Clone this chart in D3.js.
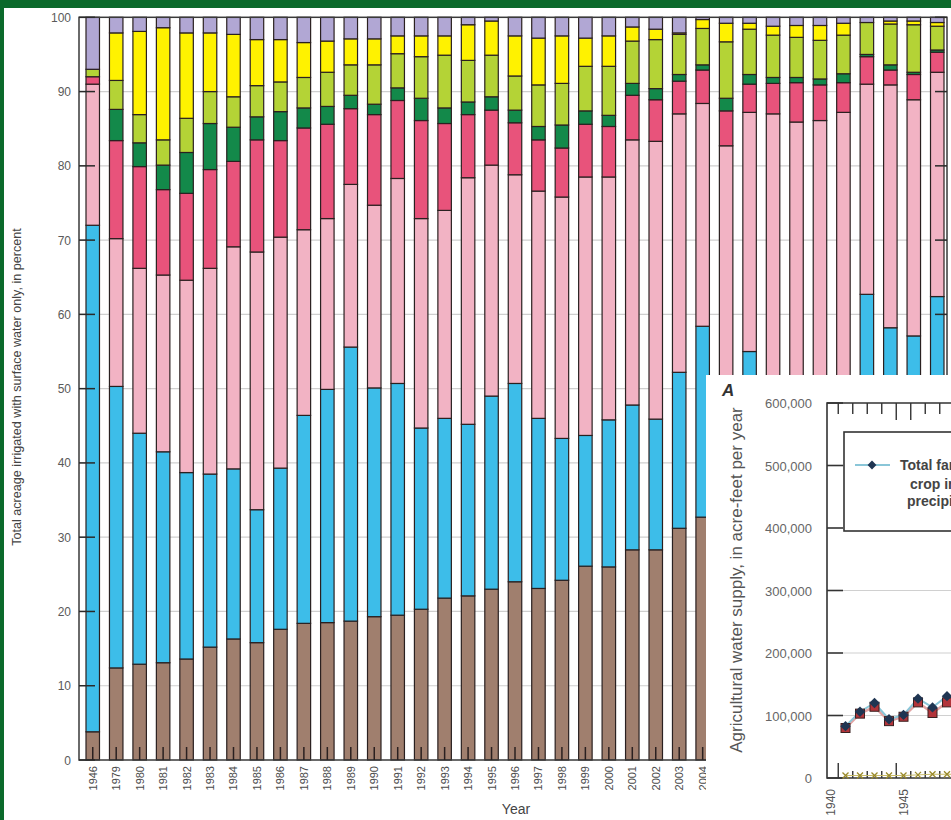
<!DOCTYPE html>
<html><head><meta charset="utf-8">
<script src="https://cdn.jsdelivr.net/npm/d3@7"></script>
<style>
html,body{margin:0;padding:0;background:#0b6a2b;}
svg{display:block;}
.narrow{font-family:"Liberation Sans Narrow","Arial Narrow","Liberation Sans",sans-serif;}
.reg{font-family:"Liberation Sans",Arial,sans-serif;}
</style></head><body>
<svg id="chart" width="951" height="820"></svg>
<script>
// ---- Main chart: share of surface-water-only acreage, by year ----
const years = ["1946","1979","1980","1981","1982","1983","1984","1985","1986","1987","1988",
  "1989","1990","1991","1992","1993","1994","1995","1996","1997","1998","1999","2000",
  "2001","2002","2003","2004","2005","2006","2007","2008","2009","2010","2011","2012","2013","2014"];

// segment sizes, bottom to top, percent of total acreage
const brownShare  = [3.8,12.4,12.9,13.1,13.6,15.2,16.3,15.8,17.6,18.4,18.5,18.7,19.3,19.5,20.3,21.8,22.1,23.0,24.0,23.1,24.2,26.1,26.0,28.3,28.3,31.2,32.7,33.0,33.5,34.0,34.5,35.0,35.5,36.0,36.5,37.0,37.5];
const blueShare   = [68.2,37.9,31.1,28.4,25.1,23.3,22.9,17.9,21.7,28.0,31.4,36.9,30.8,31.2,24.4,24.2,23.1,26.0,26.7,22.9,19.1,17.6,19.8,19.5,17.6,21.0,25.7,17.0,21.5,15.5,14.0,14.0,15.0,26.7,21.7,20.1,24.9];
const pinkShare   = [19.0,19.9,22.2,23.8,25.9,27.7,29.9,34.7,31.1,25.0,23.0,21.9,24.6,27.6,28.2,28.0,33.2,31.1,28.1,30.6,32.5,34.8,32.7,35.7,37.4,34.8,30.0,32.7,32.2,37.5,37.4,37.1,36.7,28.3,32.7,31.8,30.2];
const roseShare   = [1.0,13.2,13.7,11.5,11.7,13.3,11.5,15.1,13.0,13.7,12.7,10.2,12.2,10.5,13.2,11.7,8.5,7.4,7.0,6.9,6.6,7.1,6.8,6.0,5.6,4.4,4.5,4.7,3.8,4.1,5.3,4.8,4.0,3.7,2.0,3.4,2.7];
const forestShare = [0.0,4.2,3.2,3.3,5.5,6.2,4.6,3.1,3.9,2.7,2.4,1.8,1.4,1.7,3.0,2.1,1.7,1.8,1.7,1.8,3.1,1.8,1.5,1.6,1.5,0.9,0.7,1.7,1.3,0.8,0.7,0.8,1.2,0.3,0.7,0.3,0.3];
const limeShare   = [1.0,3.9,3.8,3.4,4.6,4.3,4.1,4.2,4.0,4.1,4.6,4.1,5.3,4.6,5.6,7.1,5.6,5.6,4.6,5.6,5.6,6.0,6.6,5.7,6.6,5.4,4.9,7.6,6.1,5.7,5.4,5.2,5.2,4.3,5.5,6.4,3.2];
const yellowShare = [0.0,6.4,11.2,15.1,11.5,7.9,8.4,6.2,5.7,4.7,4.2,3.5,3.5,2.4,2.8,2.6,4.8,4.6,5.4,6.3,6.4,3.8,4.1,1.9,1.4,0.2,1.2,2.5,0.8,1.2,1.6,2.0,1.6,0.0,0.4,0.5,0.5];
const lilacShare  = [7.0,2.1,1.9,1.4,2.1,2.1,2.3,3.0,3.0,3.4,3.2,2.9,2.9,2.5,2.5,2.5,1.0,0.5,2.5,2.8,2.5,2.8,2.5,1.3,1.6,2.1,0.3,0.8,0.8,1.2,1.1,1.1,0.8,0.7,0.5,0.5,0.7];

const seriesKeys   = ["brown","blue","pink","rose","forest","lime","yellow","lilac"];
const seriesArrays = [brownShare,blueShare,pinkShare,roseShare,forestShare,limeShare,yellowShare,lilacShare];
const seriesColors = ["#a07f6e","#3dbde9","#f2b3c4","#e8537b","#13894a","#b4d336","#fff200","#b1a7d4"];
const yTicks = [0,10,20,30,40,50,60,70,80,90,100];

// ---- Inset chart: agricultural water supply ----
const insetYears   = [1941,1942,1943,1944,1945,1946,1947,1948,1949];
const totalSupply  = [83000,106000,120000,94000,101000,127000,113000,131000,126000];
const deliverySupply = [80000,103000,114000,91000,98000,121000,104000,121000,118000];
const minorSupply  = [4000,4000,4000,4000,4000,5000,6000,6000,6000];
const insetYTicks  = [0,100000,200000,300000,400000,500000,600000];
const insetXLabels = [1940,1945];

const svg = d3.select("#chart");

// white page area
svg.append("rect").attr("x",4).attr("y",8).attr("width",947).attr("height",812).attr("fill","#fff");

const L = 79, R = 947, T = 17.3, B = 760;
const x = d3.scaleBand().domain(years).range([86, 944]).paddingInner(0.425).paddingOuter(0);
const y = d3.scaleLinear().domain([0,100]).range([B, T]);

// gridlines
svg.append("g").selectAll("line").data(yTicks.filter(d=>d>0&&d<100)).join("line")
  .attr("x1",L).attr("x2",R).attr("y1",d=>y(d)).attr("y2",d=>y(d))
  .attr("stroke","#cfcfcf").attr("stroke-width",1.2);

// stacked bars
const table = years.map((yr,i)=>{
  const o = {year:yr};
  seriesKeys.forEach((k,j)=>o[k]=seriesArrays[j][i]);
  return o;
});
const stacked = d3.stack().keys(seriesKeys)(table);
svg.append("g").selectAll("g").data(stacked).join("g")
  .attr("fill",(d,i)=>seriesColors[i])
  .selectAll("rect").data(d=>d).join("rect")
  .attr("x",d=>x(d.data.year)).attr("width",x.bandwidth())
  .attr("y",d=>y(d[1])).attr("height",d=>y(d[0])-y(d[1]))
  .attr("stroke","#2a2020").attr("stroke-width",1.2);

// frame
svg.append("rect").attr("x",L).attr("y",T).attr("width",R-L).attr("height",B-T)
  .attr("fill","none").attr("stroke","#3a3a3a").attr("stroke-width",1.5);

// inward ticks
svg.append("g").selectAll("line").data(yTicks).join("line")
  .attr("x1",L).attr("x2",L+16).attr("y1",d=>y(d)).attr("y2",d=>y(d))
  .attr("stroke","#2a2a2a").attr("stroke-width",1.5);
svg.append("g").selectAll("line").data(yTicks).join("line")
  .attr("x1",R).attr("x2",R-12).attr("y1",d=>y(d)).attr("y2",d=>y(d))
  .attr("stroke","#2a2a2a").attr("stroke-width",1.5);
svg.append("g").selectAll("line").data(years).join("line")
  .attr("x1",d=>x(d)+x.bandwidth()/2).attr("x2",d=>x(d)+x.bandwidth()/2)
  .attr("y1",B).attr("y2",B-13)
  .attr("stroke","#2a2020").attr("stroke-width",1.5);

// tick labels
svg.append("g").selectAll("text").data(yTicks).join("text")
  .attr("class","narrow").attr("x",71).attr("y",d=>y(d)+4.5)
  .attr("text-anchor","end").attr("font-size",12).attr("fill","#5a5a5a")
  .text(d=>d);
svg.append("g").selectAll("text").data(years).join("text")
  .attr("class","narrow").attr("text-anchor","end").attr("font-size",11).attr("fill","#4a4a4a")
  .attr("transform",d=>`translate(${x(d)+x.bandwidth()/2+4},766) rotate(-90)`)
  .text(d=>d);

svg.append("text").attr("class","narrow").attr("font-size",12.6).attr("fill","#444")
  .attr("text-anchor","middle").attr("transform","translate(21,387) rotate(-90)")
  .text("Total acreage irrigated with surface water only, in percent");
svg.append("text").attr("class","narrow").attr("font-size",14).attr("fill","#444")
  .attr("text-anchor","middle").attr("x",516).attr("y",814).text("Year");

// ---- inset panel ----
const g2 = svg.append("g");
g2.append("rect").attr("x",706).attr("y",375).attr("width",245).attr("height",445).attr("fill","#fff");

const IL = 827, IT = 403, IB = 778, IR = 960;
const xi = d3.scaleLinear().domain([1940,1950]).range([831, 976]);
const yi = d3.scaleLinear().domain([0,600000]).range([IB, IT]);

g2.append("text").attr("class","reg").attr("x",722).attr("y",396)
  .attr("font-size",17).attr("font-weight","bold").attr("font-style","italic").attr("fill","#333").text("A");

g2.append("g").selectAll("line").data(insetYTicks.filter(d=>d>0&&d<600000)).join("line")
  .attr("x1",843).attr("x2",IR).attr("y1",d=>yi(d)).attr("y2",d=>yi(d))
  .attr("stroke","#d0d0d0").attr("stroke-width",1.2);

// axis frame
g2.append("path").attr("d",`M${IR},${IT}H${IL}V${IB}H${IR}`)
  .attr("fill","none").attr("stroke","#333").attr("stroke-width",1.6);
g2.append("g").selectAll("line").data(insetYTicks).join("line")
  .attr("x1",IL).attr("x2",IL+16).attr("y1",d=>yi(d)).attr("y2",d=>yi(d))
  .attr("stroke","#333").attr("stroke-width",1.6);
const halfYears = d3.range(1940.5, 1950, 1);
g2.append("g").selectAll("line").data(halfYears).join("line")
  .attr("x1",d=>xi(d)).attr("x2",d=>xi(d)).attr("y1",IT)
  .attr("y2",(d,i)=> (i===4||i===5) ? IT+17 : IT+11)
  .attr("stroke","#333").attr("stroke-width",1.4);
g2.append("g").selectAll("line").data(halfYears).join("line")
  .attr("x1",d=>xi(d)).attr("x2",d=>xi(d)).attr("y1",IB)
  .attr("y2",(d,i)=> (i===0||i===4) ? IB-15 : IB-7)
  .attr("stroke","#333").attr("stroke-width",1.4);

g2.append("g").selectAll("text").data(insetYTicks).join("text")
  .attr("class","narrow").attr("x",812).attr("y",d=>yi(d)+5)
  .attr("text-anchor","end").attr("font-size",13).attr("fill","#666")
  .text(d=>d3.format(",")(d));
g2.append("g").selectAll("text").data(insetXLabels).join("text")
  .attr("class","narrow").attr("text-anchor","end").attr("font-size",12).attr("fill","#555")
  .attr("transform",d=>`translate(${xi(d)+4},789) rotate(-90)`).text(d=>d);

g2.append("text").attr("class","reg").attr("font-size",17).attr("fill","#555")
  .attr("text-anchor","middle").attr("transform","translate(742,580) rotate(-90)")
  .text("Agricultural water supply, in acre-feet per year");

// data lines
const lineGen = arr => d3.line().x((d,i)=>xi(insetYears[i])).y(d=>yi(d))(arr);
g2.append("path").attr("d",lineGen(deliverySupply)).attr("fill","none")
  .attr("stroke","#e2a3a3").attr("stroke-width",2.5);
g2.append("path").attr("d",lineGen(totalSupply)).attr("fill","none")
  .attr("stroke","#8ac6d8").attr("stroke-width",2);
g2.append("path").attr("d",lineGen(minorSupply)).attr("fill","none")
  .attr("stroke","#c9bd6a").attr("stroke-width",1);
g2.append("g").selectAll("path").data(minorSupply).join("path")
  .attr("d",(d,i)=>{const cx=xi(insetYears[i]), cy=yi(d); return `M${cx-3},${cy-3}L${cx+3},${cy+3}M${cx-3},${cy+3}L${cx+3},${cy-3}`;})
  .attr("stroke","#9a8a2a").attr("stroke-width",1.3);
g2.append("g").selectAll("rect").data(deliverySupply).join("rect")
  .attr("x",(d,i)=>xi(insetYears[i])-4.5).attr("y",d=>yi(d)-4.5).attr("width",9).attr("height",9)
  .attr("fill","#b2343a").attr("stroke","#3a2020").attr("stroke-width",1);
g2.append("g").selectAll("path").data(totalSupply).join("path")
  .attr("transform",(d,i)=>`translate(${xi(insetYears[i])},${yi(d)})`)
  .attr("d",d3.symbol(d3.symbolDiamond2,70)).attr("fill","#1f3552");

// legend
g2.append("rect").attr("x",844).attr("y",432).attr("width",130).attr("height",99)
  .attr("fill","#fff").attr("stroke","#333").attr("stroke-width",1.6);
g2.append("line").attr("x1",855).attr("x2",890).attr("y1",465).attr("y2",465)
  .attr("stroke","#8ac6d8").attr("stroke-width",2);
g2.append("path").attr("transform","translate(872,465)")
  .attr("d",d3.symbol(d3.symbolDiamond2,50)).attr("fill","#1f3552");
const legendLines = [["Total farm delivery and",900,470],["crop irrigation from",910,489],["precipitation",907,506]];
g2.append("g").selectAll("text").data(legendLines).join("text")
  .attr("class","narrow").attr("x",d=>d[1]).attr("y",d=>d[2])
  .attr("font-size",14).attr("font-weight","bold").attr("fill","#444").text(d=>d[0]);
</script></body></html>
